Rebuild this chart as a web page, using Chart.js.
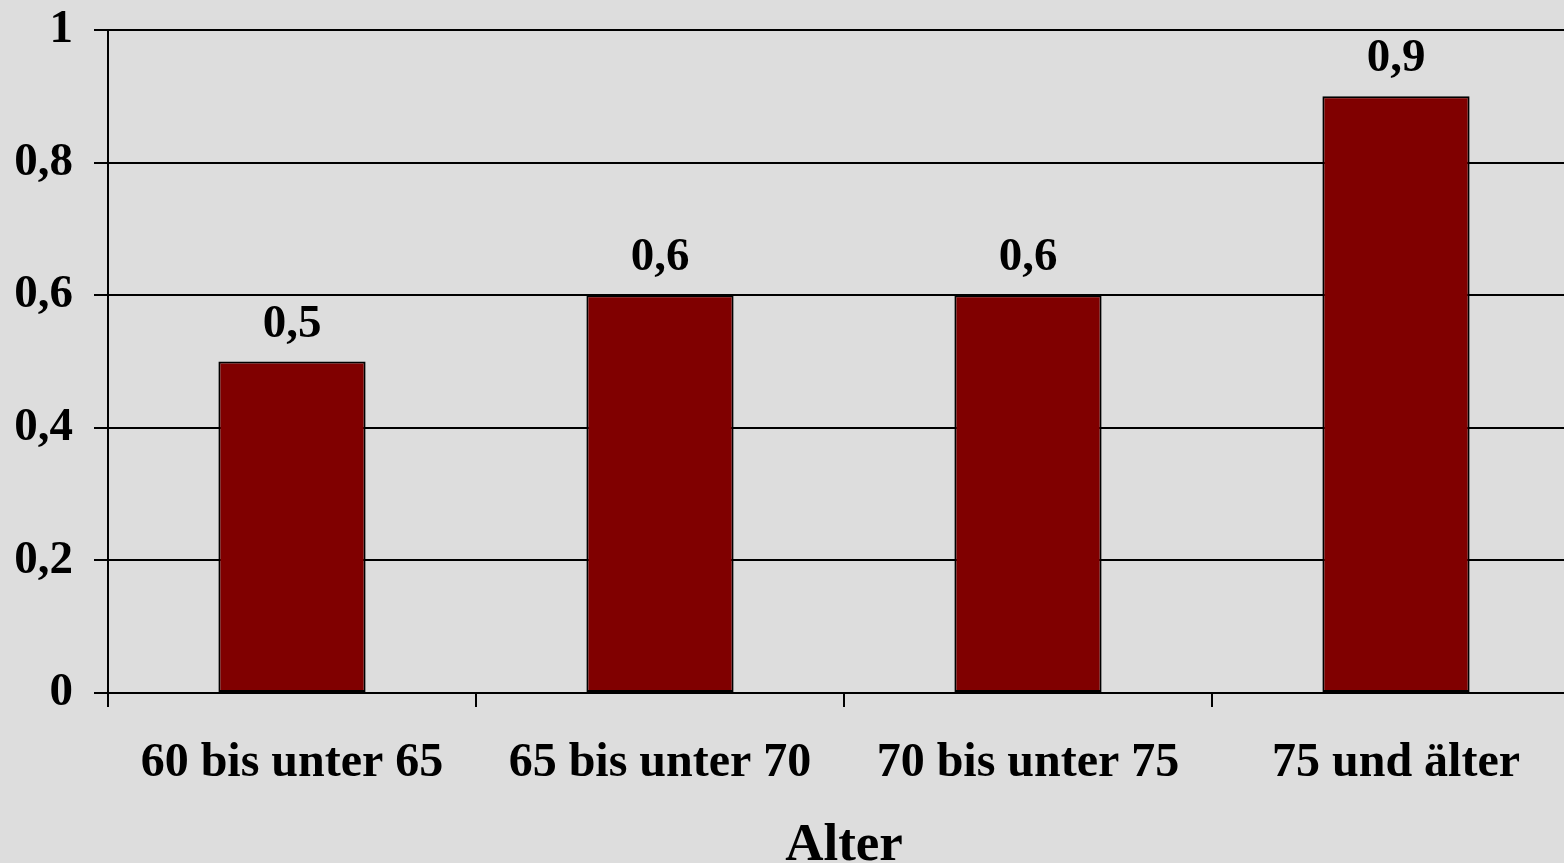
<!DOCTYPE html>
<html lang="de">
<head>
<meta charset="utf-8">
<title>Alter</title>
<script src="https://cdn.jsdelivr.net/npm/chart.js@4"></script>
<style>
  html, body { margin: 0; padding: 0; overflow: hidden; background: #dddddd; }
  #wrap { width: 1582px; height: 863px; }
  canvas { display: block; }
</style>
</head>
<body>
<div id="wrap"><canvas id="c" width="1582" height="863"></canvas></div>
<script>
// Altersgruppen und Werte
const categories = ['60 bis unter 65', '65 bis unter 70', '70 bis unter 75', '75 und älter'];
const values = [0.5, 0.6, 0.6, 0.9];
const yTickLabels = ['0', '0,2', '0,4', '0,6', '0,8', '1'];
const axisTitle = 'Alter';

const FONT = '"Liberation Serif", "Times New Roman", serif';

// Werte über den Balken, mit Dezimalkomma
const valueLabels = {
  id: 'valueLabels',
  afterDatasetsDraw(chart) {
    const ctx = chart.ctx;
    const meta = chart.getDatasetMeta(0);
    ctx.save();
    ctx.font = 'bold 47px ' + FONT;
    ctx.fillStyle = '#000000';
    ctx.textAlign = 'center';
    ctx.textBaseline = 'alphabetic';
    meta.data.forEach((bar, i) => {
      const txt = String(values[i]).replace('.', ',');
      ctx.fillText(txt, bar.x, bar.y - 25);
    });
    ctx.restore();
  }
};

new Chart(document.getElementById('c'), {
  type: 'bar',
  data: {
    labels: categories,
    datasets: [{
      data: values,
      backgroundColor: '#800000',
      borderColor: '#000000',
      borderWidth: 2,
      borderSkipped: false,
      categoryPercentage: 1,
      barPercentage: 0.4
    }]
  },
  options: {
    responsive: false,
    animation: false,
    layout: { padding: { top: 30, right: 2, left: 0, bottom: -15 } },
    plugins: {
      legend: { display: false },
      tooltip: { enabled: false }
    },
    scales: {
      x: {
        offset: true,
        grid: {
          offset: true,
          drawOnChartArea: false,
          drawTicks: true,
          tickLength: 14,
          color: '#000000',
          lineWidth: 2
        },
        border: { display: true, color: '#000000', width: 2 },
        ticks: {
          color: '#000000',
          font: { family: FONT, size: 48, weight: 'bold' },
          padding: 28,
          maxRotation: 0,
          autoSkip: false
        },
        title: {
          display: true,
          text: axisTitle,
          color: '#000000',
          font: { family: FONT, size: 53, weight: 'bold' },
          padding: { top: 14, bottom: 0 }
        },
        afterFit(scale) { scale.height = 185; }
      },
      y: {
        min: 0,
        max: 1,
        ticks: {
          stepSize: 0.2,
          color: '#000000',
          font: { family: FONT, size: 47, weight: 'bold' },
          padding: 21,
          callback: (v, i) => yTickLabels[i]
        },
        grid: {
          color: '#000000',
          lineWidth: 2,
          tickLength: 14,
          drawTicks: true
        },
        border: { display: true, color: '#000000', width: 2 },
        afterFit(scale) {
          scale.width = 108;
          scale.paddingTop = 0;
          scale.paddingBottom = 0;
        }
      }
    }
  },
  plugins: [valueLabels]
});
</script>
</body>
</html>
